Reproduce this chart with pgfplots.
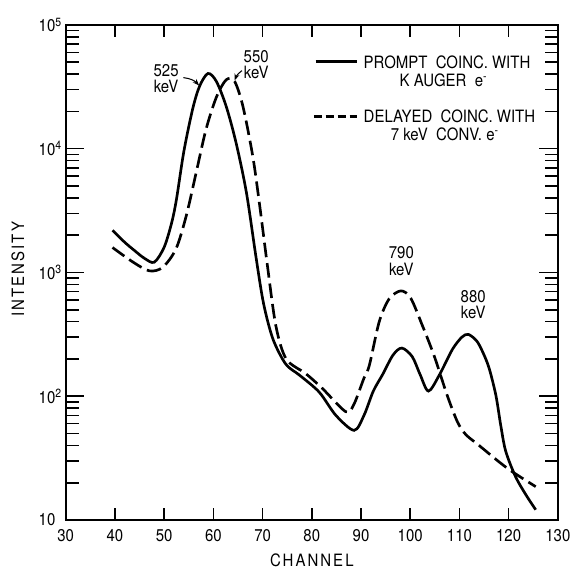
\documentclass[border=0pt]{standalone}
\usepackage{fontspec}
\setmainfont{TeX Gyre Heros}[FakeStretch=0.88]
\usepackage{pgfplots}
\pgfplotsset{compat=1.18}
\usetikzlibrary{arrows.meta}

% prompt coincidences with K Auger electrons
\pgfplotstableread{
ch    n
39.5  2190
42    1750
44    1500
46    1300
48    1210
50    1600
51.5  2500
52.5  3900
54    9500
55.8  21000
57.2  32000
58.9  40500
60.6  35000
62.6  22000
64.6  11200
66.7  4450
68.7  1300
70.2  560
72.1  290
74.7  182
77.5  148
81.5  108
84.9  70
88.6  53
90.6  70
92.5  110
94.4  150
96.5  215
98.3  245
100.4 209
102   150
103.7 110
105.9 148
108.6 240
110.5 300
111.8 316
113.5 280
114.7 229
116   170
117.4 102
118.4 58
119.4 36
121.4 22.4
123.5 16
125.5 12.1
}\prompt

% delayed coincidences with 7 keV conversion electrons
\pgfplotstableread{
ch    n
39.5  1590
43.7  1210
47    1030
49.7  1100
52.4  1550
54.5  2880
56.5  6400
58.5  14300
60.6  26000
62.6  36000
64.3  35000
66    22000
68    8700
69.4  3500
71    1120
72.7  370
74.8  200
78.8  152
82.2  115
86.9  75
88.5  85
90.6  140
91.7  178
93.7  400
95.7  610
98.1  710
100.1 620
102.5 370
104.9 210
107.5 102
109.6 62
111.3 49
114   40
118   29.6
120.7 24.6
125.5 18.6
}\delayed

\begin{document}
\fontsize{12.8}{12.5}\selectfont
\begin{tikzpicture}
\begin{axis}[
  scale only axis, width=370.5pt, height=372.75pt,
  ymode=log, xmin=30, xmax=130, ymin=10, ymax=100000,
  xtick={30,40,...,130},
  ytick={10,100,1000,10000,100000},
  yticklabels={10,10\textsuperscript{2},10\textsuperscript{3},10\textsuperscript{4},10\textsuperscript{5}},
  /pgf/number format/assume math mode=true,
  axis line style={line width=1.4pt},
  tick style={line width=1.2pt, black},
  xtick style={/pgfplots/major tick length=9pt},
  ytick style={/pgfplots/major tick length=14pt},
  minor tick length=10pt,
  xticklabel style={yshift=-3pt},
  yticklabel style={anchor=west, xshift=-24.8pt},
  clip=false,
]
\addplot[line width=2pt, smooth] table[x=ch, y=n] {\prompt};
\addplot[line width=2pt, smooth, dash pattern=on 11pt off 4.5pt] table[x=ch, y=n] {\delayed};

% peak labels
\node[align=center, inner sep=0pt] at (axis cs:50.4,36700) {525\\keV};
\draw[-{Stealth[length=5pt]}, line width=0.8pt] (axis cs:53.9,37500) to[bend left=20] (axis cs:57.1,32400);
\node[align=center, inner sep=0pt] at (axis cs:68.7,47700) {550\\keV};
\draw[-{Stealth[length=5pt]}, line width=0.8pt] (axis cs:65.8,42700) to[bend right=15] (axis cs:64.3,35600);
\node[align=center, inner sep=0pt] at (axis cs:98.2,1230) {790\\keV};
\node[align=center, inner sep=0pt] at (axis cs:112.8,550) {880\\keV};

% key
\draw[line width=2pt] (axis cs:80.8,50400) -- (axis cs:89.1,50400);
\node[anchor=west, inner sep=0pt] at (axis cs:90.5,49500) {PROMPT\ \ COINC.\ WITH};
\node[anchor=west, inner sep=0pt] at (axis cs:97.8,35500) {K AUGER\ \ e\textsuperscript{-}};
\draw[line width=2pt, dash pattern=on 6pt off 3pt] (axis cs:80.4,18200) -- (axis cs:89.1,18200);
\node[anchor=west, inner sep=0pt] at (axis cs:90.5,18200) {DELAYED\ \ COINC.\ WITH};
\node[anchor=west, inner sep=0pt] at (axis cs:96.0,13000) {7 keV\ \ CONV. e\textsuperscript{-}};

% axis titles
\node[rotate=90, font=\addfontfeature{LetterSpace=12}] at (rel axis cs:-0.097,0.507) {INTENSITY};
\node[font=\addfontfeature{LetterSpace=12}] at (rel axis cs:0.5,-0.0805) {CHANNEL};
\end{axis}
\path ([xshift=-49.5pt,yshift=-39pt]current axis.south west) rectangle ([xshift=12pt,yshift=18.75pt]current axis.north east);
\end{tikzpicture}
\end{document}
